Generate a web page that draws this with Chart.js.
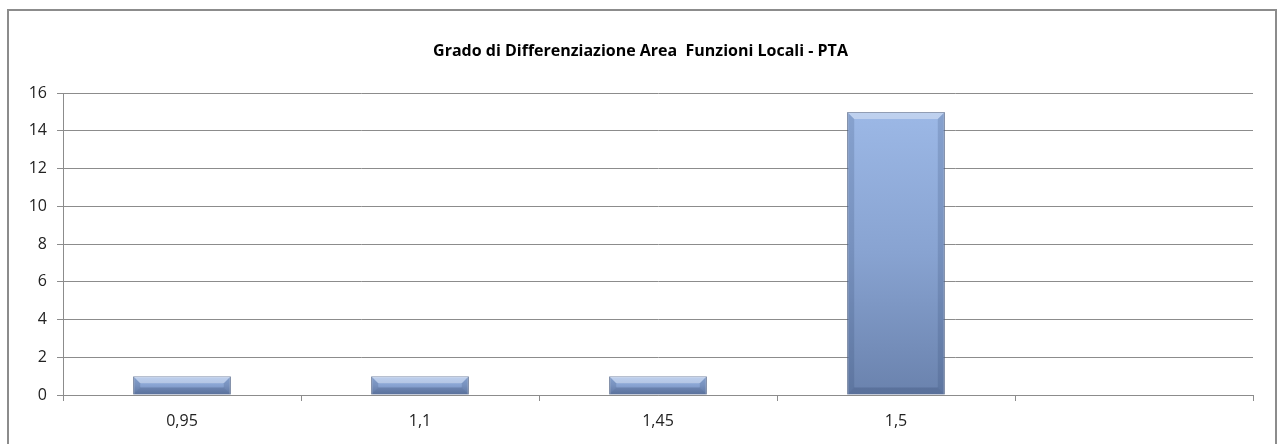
<!DOCTYPE html>
<html lang="it">
<head>
  <meta charset="UTF-8">
  <title>Grado di Differenziazione Area Funzioni Locali - PTA</title>
  <style>
    body { margin: 0; background: #fff; font-family: "Open Sans", Arial, sans-serif; }
    #frame { position: absolute; left: 7px; top: 9px; width: 1266px; height: 440px; border: 2px solid #8c8c8c; }
    #wrap { position: absolute; left: 0; top: 0; width: 1282px; height: 444px; }
  </style>
</head>
<body>
  <div id="frame"></div>
  <div id="wrap"><canvas id="chart"></canvas></div>

  <script src="https://cdn.jsdelivr.net/npm/chart.js"></script>
  <script>
    const categories = ['0,95', '1,1', '1,45', '1,5', ''];
    const values = [1, 1, 1, 15, null];
    const yTicks = [0, 2, 4, 6, 8, 10, 12, 14, 16];

    // gradient per bar, light on top and darker at the base
    function barFill(ctx) {
      const chart = ctx.chart;
      if (!chart.chartArea || ctx.raw == null) return '#86a1cf';
      const y = chart.scales.y;
      const top = y.getPixelForValue(ctx.raw);
      const base = y.getPixelForValue(0);
      const g = chart.ctx.createLinearGradient(0, top, 0, base);
      g.addColorStop(0, '#9cb8e6');
      g.addColorStop(0.5, '#88a3d1');
      g.addColorStop(1, '#6a82ad');
      return g;
    }

    // rough bevel look like the office chart
    const bevel = {
      id: 'bevel',
      afterDatasetsDraw(chart) {
        const c = chart.ctx;
        chart.getDatasetMeta(0).data.forEach(bar => {
          if (bar.skip || isNaN(bar.y)) return;
          const l = bar.x - bar.width / 2, r = bar.x + bar.width / 2;
          const t = bar.y, b = bar.base;
          const d = Math.min(7, (b - t) / 2);
          c.save();
          c.fillStyle = 'rgba(255,255,255,0.35)';
          c.beginPath();
          c.moveTo(l, t); c.lineTo(r, t); c.lineTo(r - d, t + d); c.lineTo(l + d, t + d);
          c.closePath(); c.fill();
          c.fillStyle = 'rgba(40,60,100,0.18)';
          c.beginPath();
          c.moveTo(r, t); c.lineTo(r, b); c.lineTo(r - d, b - d); c.lineTo(r - d, t + d);
          c.closePath(); c.fill();
          c.beginPath();
          c.moveTo(l, t); c.lineTo(l, b); c.lineTo(l + d, b - d); c.lineTo(l + d, t + d);
          c.closePath(); c.fill();
          c.fillStyle = 'rgba(40,60,100,0.25)';
          c.beginPath();
          c.moveTo(l, b); c.lineTo(r, b); c.lineTo(r - d, b - d); c.lineTo(l + d, b - d);
          c.closePath(); c.fill();
          c.restore();
        });
      }
    };

    new Chart(document.getElementById('chart'), {
      type: 'bar',
      data: {
        labels: categories,
        datasets: [{
          data: values,
          backgroundColor: barFill,
          borderColor: '#56698d',
          borderWidth: 1,
          categoryPercentage: 1,
          barPercentage: 0.41
        }]
      },
      options: {
        responsive: true,
        maintainAspectRatio: false,
        animation: false,
        layout: { padding: { left: 28, right: 29, top: 0, bottom: 0 } },
        plugins: {
          legend: { display: false },
          tooltip: { enabled: false },
          title: {
            display: true,
            text: 'Grado di Differenziazione Area  Funzioni Locali - PTA',
            color: '#000',
            font: { family: 'Open Sans', size: 16, weight: 'bold', lineHeight: 1.2 },
            padding: { top: 42, bottom: 32 }
          }
        },
        scales: {
          x: {
            grid: { display: true, drawOnChartArea: false, offset: true, color: '#8c8c8c', tickLength: 6 },
            border: { color: '#8c8c8c' },
            ticks: { color: '#222', font: { family: 'Open Sans', size: 16 }, padding: 11 },
            afterFit: s => { s.height = 49; }
          },
          y: {
            min: 0,
            max: 16,
            afterBuildTicks: s => { s.ticks = yTicks.map(v => ({ value: v })); },
            grid: { color: '#8c8c8c', tickLength: 6 },
            border: { color: '#8c8c8c' },
            ticks: { color: '#222', font: { family: 'Open Sans', size: 16 }, padding: 10 },
            afterFit: s => { s.width = 35; }
          }
        }
      },
      plugins: [bevel]
    });
  </script>
</body>
</html>
